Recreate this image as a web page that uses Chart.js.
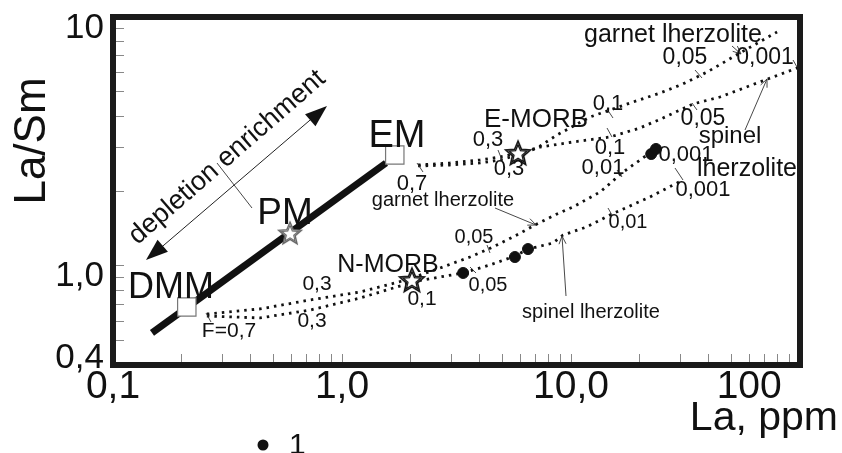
<!DOCTYPE html>
<html><head><meta charset="utf-8">
<script src="https://cdn.jsdelivr.net/npm/chart.js@4/dist/chart.umd.min.js"></script>
<style>html,body{margin:0;padding:0;background:#fff;}#wrap{width:842px;height:453px;position:relative;}</style>
</head><body><div id="wrap"><canvas id="c"></canvas></div>
<script>
// ---- axis ticks ----
const xTickValues = [0.1,0.2,0.3,0.4,0.5,0.6,0.7,0.8,0.9,1,2,3,4,5,6,7,8,9,10,20,30,40,50,60,70,80,90,100];
const xTickLabels = ['0,1','','','','','','','','','1,0','','','','','','','','','10,0','','','','','100','','','',''];
const yTickValues = [0.4,0.5,0.6,0.7,0.8,0.9,1,2,3,4,5,6,7,8,9,10];
const yTickLabels = ['0,4','','','','','','1,0','','','','','','','','','10'];

// ---- data (La ppm, La/Sm) ----
const samplesLa    = [3.38, 5.69, 6.49, 22.4, 23.5];
const samplesRatio = [0.937, 1.086, 1.169, 2.816, 2.950];

const mixLa    = [0.148, 1.556];
const mixRatio = [0.538, 2.592];

const squareNames = ['DMM', 'EM'];
const squareLa    = [0.210, 1.70];
const squareRatio = [0.684, 2.790];
const pmLa = [0.593];
const pmRatio = [1.356];

const morbNames = ['N-MORB', 'E-MORB'];
const morbLa    = [2.02, 5.87];
const morbRatio = [0.878, 2.842];

const dmmUpperLa    = [0.257, 0.439, 0.725, 1.20, 1.98];
const dmmUpperRatio = [0.641, 0.672, 0.730, 0.786, 0.886];
const dmmLowerLa    = [0.257, 0.439, 0.725, 1.20, 1.98];
const dmmLowerRatio = [0.629, 0.618, 0.665, 0.743, 0.854];

const emUpperLa    = [2.15, 2.96, 4.01, 4.90, 5.87];
const emUpperRatio = [2.544, 2.592, 2.664, 2.739, 2.842];
const emLowerLa    = [2.15, 2.96, 4.01, 4.90, 5.87];
const emLowerRatio = [2.521, 2.544, 2.592, 2.664, 2.790];

const eGarnetLa    = [5.87, 7.10, 8.69, 12.1, 18.1, 24.5, 30.8, 39.3, 54.7, 79.4];
const eGarnetRatio = [2.842, 2.977, 3.357, 3.965, 4.513, 4.951, 5.381, 6.012, 7.169, 8.705];
const eSpinelLa    = [5.87, 7.32, 10.2, 14.8, 20.0, 25.2, 34.1, 44.7, 70.4, 100];
const eSpinelRatio = [2.790, 3.004, 3.147, 3.296, 3.582, 3.929, 4.473, 4.771, 5.584, 6.297];

const nGarnetLa    = [2.02, 2.68, 3.62, 4.56, 5.69, 7.10, 8.69, 10.2, 13.4, 16.9, 22.1];
const nGarnetRatio = [0.894, 0.981, 1.086, 1.191, 1.319, 1.474, 1.617, 1.725, 1.982, 2.384, 2.842];
const nSpinelLa    = [2.02, 2.68, 3.38, 4.43, 5.69, 6.49, 8.34, 9.23, 11.7, 14.8, 22.1, 30.8];
const nSpinelRatio = [0.862, 0.903, 0.937, 1.009, 1.096, 1.169, 1.236, 1.331, 1.434, 1.602, 1.892, 2.215];

const pts = (xs, ys) => xs.map((x, i) => ({x: x, y: ys[i]}));

// ---- star point images ----
function makeStar(R, stroke, lw, inner) {
  const s = Math.ceil(2 * R + 6);
  const c = document.createElement('canvas'); c.width = s; c.height = s;
  const g = c.getContext('2d');
  function path(r) {
    g.beginPath();
    for (let i = 0; i < 10; i++) {
      const rr = (i % 2) ? r * 0.45 : r;
      const a = -Math.PI / 2 + i * Math.PI / 5;
      const px = s / 2 + rr * Math.cos(a), py = s / 2 + 1 + rr * Math.sin(a);
      if (i) g.lineTo(px, py); else g.moveTo(px, py);
    }
    g.closePath();
  }
  path(R); g.fillStyle = '#fff'; g.fill(); g.strokeStyle = stroke; g.lineWidth = lw; g.stroke();
  if (inner) { path(R * 0.72); g.lineWidth = lw * 0.8; g.stroke(); }
  return c;
}
const blackStar = makeStar(13, '#111', 1.6, true);
const greyStar = makeStar(12, '#666', 1.4, true);

const DOT = {borderColor: '#111', borderWidth: 2.8, borderDash: [2.5, 5], pointRadius: 0, showLine: true, fill: false, tension: 0};

// ---- annotations (labels, arrows) ----
const texts = [
  {t: 'EM', x: 397, y: 147, s: 38},
  {t: 'PM', x: 285, y: 224, s: 37},
  {t: 'DMM', x: 171, y: 298, s: 36},
  {t: 'N-MORB', x: 388, y: 272, s: 25},
  {t: 'E-MORB', x: 536, y: 127, s: 26},
  {t: 'F=0,7', x: 229, y: 337, s: 21},
  {t: '0,3', x: 317, y: 290, s: 21},
  {t: '0,3', x: 312, y: 327, s: 21},
  {t: '0,1', x: 422, y: 305, s: 21},
  {t: '0,05', x: 474, y: 243, s: 20},
  {t: '0,05', x: 488, y: 291, s: 20},
  {t: 'garnet lherzolite', x: 443, y: 206, s: 20},
  {t: 'spinel lherzolite', x: 591, y: 318, s: 20},
  {t: '0,01', x: 628, y: 228, s: 20},
  {t: '0,01', x: 603, y: 174, s: 22},
  {t: '0,1', x: 610, y: 154, s: 22},
  {t: '0,1', x: 608, y: 110, s: 22},
  {t: '0,05', x: 703, y: 125, s: 23},
  {t: '0,001', x: 686, y: 161, s: 22},
  {t: 'lherzolite', x: 747, y: 176, s: 25},
  {t: 'spinel', x: 730, y: 143, s: 24},
  {t: '0,001', x: 703, y: 196, s: 22},
  {t: 'garnet lherzolite', x: 673, y: 42, s: 25},
  {t: '0,05', x: 685, y: 64, s: 23},
  {t: '0,001', x: 765, y: 64, s: 23},
  {t: '0,3', x: 488, y: 146, s: 22},
  {t: '0,3', x: 509, y: 175, s: 22},
  {t: '0,7', x: 412, y: 190, s: 22}
];
const yLabelDy = {'0,4': -7, '1,0': 10, '10': 11};
const thinLines = [[217,163,252,208],[206,313,211,322],[417,163,423,172],[607,109,613,118],[607,128,612,137],
  [617,170,622,177],[692,103,697,110],[695,70,702,78],[675,168,683,180],[793,60,797,67],[487,245,490,253],
  [470,267,476,273],[608,208,612,215],[498,150,502,160]];
const openArrows = [[495,208,536,225],[566,296,562,236],[745,130,767,79],[732,46,741,54]];

function headPath(x1, y1, x2, y2, len, half) {
  const a = Math.atan2(y2 - y1, x2 - x1);
  const bx = x2 - len * Math.cos(a), by = y2 - len * Math.sin(a);
  return [[bx + half * Math.sin(a), by - half * Math.cos(a)], [x2, y2], [bx - half * Math.sin(a), by + half * Math.cos(a)]];
}

const annot = {
  id: 'annot',
  afterDraw(chart) {
    const ctx = chart.ctx, a = chart.chartArea;
    ctx.save();
    // frame
    ctx.strokeStyle = '#1a1a1a'; ctx.lineWidth = 6; ctx.lineJoin = 'miter';
    ctx.strokeRect(a.left, a.top, a.right - a.left, a.bottom - a.top);
    // thin lines
    ctx.strokeStyle = '#333'; ctx.lineWidth = 0.9;
    thinLines.forEach(l => { ctx.beginPath(); ctx.moveTo(l[0], l[1]); ctx.lineTo(l[2], l[3]); ctx.stroke(); });
    openArrows.forEach(l => {
      ctx.beginPath(); ctx.moveTo(l[0], l[1]); ctx.lineTo(l[2], l[3]); ctx.stroke();
      const h = headPath(l[0], l[1], l[2], l[3], 8, 3.5);
      ctx.beginPath(); ctx.moveTo(h[0][0], h[0][1]); ctx.lineTo(h[1][0], h[1][1]); ctx.lineTo(h[2][0], h[2][1]); ctx.stroke();
    });
    // double arrow depletion / enrichment
    ctx.strokeStyle = '#222'; ctx.lineWidth = 1;
    ctx.beginPath(); ctx.moveTo(150, 257); ctx.lineTo(323, 109); ctx.stroke();
    ctx.fillStyle = '#111';
    [[323,109,146,260],[150,257,327,106]].forEach(l => {
      const h = headPath(l[0], l[1], l[2], l[3], 22, 8);
      ctx.beginPath(); ctx.moveTo(h[0][0], h[0][1]); ctx.lineTo(h[1][0], h[1][1]); ctx.lineTo(h[2][0], h[2][1]); ctx.closePath(); ctx.fill();
    });
    // texts
    ctx.fillStyle = '#111'; ctx.textBaseline = 'alphabetic'; ctx.textAlign = 'center';
    texts.forEach(t => { ctx.font = t.s + "px 'Liberation Sans', Arial, sans-serif"; ctx.fillText(t.t, t.x, t.y); });
    // rotated label
    ctx.save(); ctx.translate(232, 163); ctx.rotate(-41 * Math.PI / 180);
    ctx.font = "27px 'Liberation Sans', Arial, sans-serif"; ctx.fillText('depletion enrichment', 0, 0); ctx.restore();
    // y tick labels
    const ys = chart.scales.y;
    ctx.font = "35px 'Liberation Sans', Arial, sans-serif"; ctx.textAlign = 'right'; ctx.textBaseline = 'middle';
    yTickValues.forEach((v, i) => {
      const lab = yTickLabels[i];
      if (lab) ctx.fillText(lab, 104, ys.getPixelForValue(v) + (yLabelDy[lab] || 0));
    });
    ctx.textBaseline = 'alphabetic';
    // axis titles
    ctx.font = "41px 'Liberation Sans', Arial, sans-serif"; ctx.textAlign = 'right';
    ctx.fillText('La, ppm', 838, 430);
    ctx.save(); ctx.translate(45, 141); ctx.rotate(-Math.PI / 2); ctx.textAlign = 'center';
    ctx.font = "44px 'Liberation Sans', Arial, sans-serif"; ctx.fillText('La/Sm', 0, 0); ctx.restore();
    // legend
    ctx.beginPath(); ctx.arc(263, 445, 5.5, 0, Math.PI * 2); ctx.fill();
    ctx.font = "30px 'Liberation Sans', Arial, sans-serif"; ctx.textAlign = 'left';
    ctx.fillText('1', 289, 454);
    ctx.restore();
  }
};

Chart.defaults.font.family = "'Liberation Sans', Arial, sans-serif";
Chart.defaults.color = '#111';

new Chart(document.getElementById('c'), {
  type: 'scatter',
  data: {
    datasets: [
      {label: '1', data: pts(samplesLa, samplesRatio), pointRadius: 5.5, backgroundColor: '#111', borderColor: '#111', showLine: false},
      {label: 'PM', data: pts(pmLa, pmRatio), pointStyle: greyStar, pointRadius: 12, showLine: false},
      {label: 'MORB', data: pts(morbLa, morbRatio), pointStyle: blackStar, pointRadius: 13, showLine: false},
      {label: 'sources', data: pts(squareLa, squareRatio), pointStyle: 'rect', pointRadius: 13, backgroundColor: '#fff', borderColor: '#777', borderWidth: 1.2, showLine: false},
      {label: 'mixing', data: pts(mixLa, mixRatio), borderColor: '#111', borderWidth: 7, pointRadius: 0, showLine: true},
      Object.assign({label: 'DMM garnet', data: pts(dmmUpperLa, dmmUpperRatio)}, DOT),
      Object.assign({label: 'DMM spinel', data: pts(dmmLowerLa, dmmLowerRatio)}, DOT),
      Object.assign({label: 'EM garnet', data: pts(emUpperLa, emUpperRatio)}, DOT),
      Object.assign({label: 'EM spinel', data: pts(emLowerLa, emLowerRatio)}, DOT),
      Object.assign({label: 'E-MORB garnet', data: pts(eGarnetLa, eGarnetRatio)}, DOT),
      Object.assign({label: 'E-MORB spinel', data: pts(eSpinelLa, eSpinelRatio)}, DOT),
      Object.assign({label: 'N-MORB garnet', data: pts(nGarnetLa, nGarnetRatio)}, DOT),
      Object.assign({label: 'N-MORB spinel', data: pts(nSpinelLa, nSpinelRatio)}, DOT)
    ]
  },
  options: {
    responsive: true, maintainAspectRatio: false, animation: false, devicePixelRatio: 1, events: [],
    layout: {padding: {left: 0, right: 42, top: 17, bottom: 0}},
    plugins: {legend: {display: false}, tooltip: {enabled: false}},
    scales: {
      x: {
        type: 'logarithmic', min: 0.1, max: 100, position: 'bottom',
        afterBuildTicks: s => { s.ticks = xTickValues.map(v => ({value: v})); },
        afterFit: s => { s.height = 88; s.paddingLeft = 0; s.paddingRight = 0; s.paddingTop = 0; s.paddingBottom = 0; },
        ticks: {autoSkip: false, maxRotation: 0, minRotation: 0, padding: 10, color: '#111',
          font: {size: 39}, callback: (v, i) => xTickLabels[i]},
        grid: {display: true, drawOnChartArea: false, drawTicks: true, tickLength: -11, color: '#888', lineWidth: 1},
        border: {display: false}
      },
      y: {
        type: 'logarithmic', min: 0.4, max: 10, position: 'left',
        afterBuildTicks: s => { s.ticks = yTickValues.map(v => ({value: v})); },
        afterFit: s => { s.width = 113; s.paddingLeft = 0; s.paddingRight = 0; s.paddingTop = 0; s.paddingBottom = 0; },
        ticks: {autoSkip: false, padding: 21, color: '#111', font: {size: 35}, callback: () => ''},
        grid: {display: true, drawOnChartArea: false, drawTicks: true, tickLength: -11, color: '#888', lineWidth: 1},
        border: {display: false}
      }
    }
  },
  plugins: [annot]
});
</script>
</body></html>
